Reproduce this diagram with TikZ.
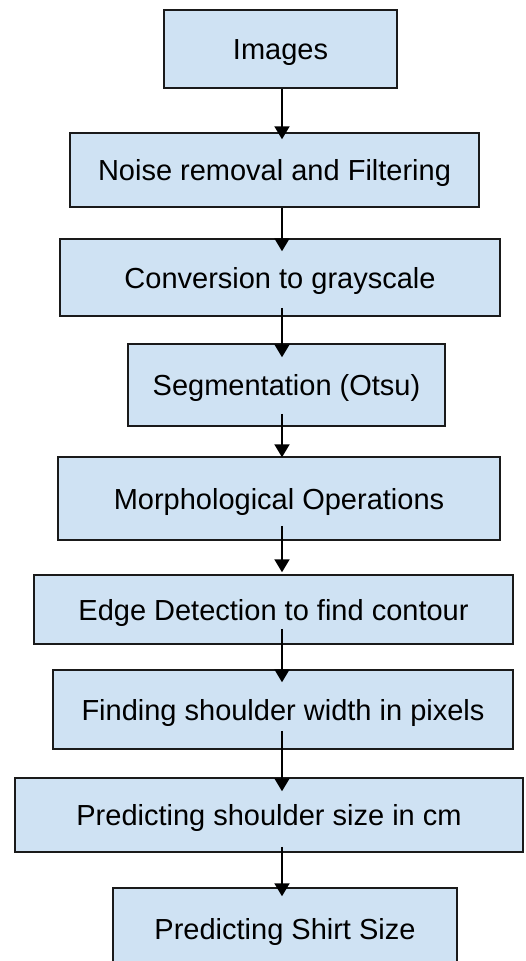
\documentclass[tikz,border=0pt]{standalone}
\usepackage{fontspec}
\setmainfont{Liberation Sans}
\usetikzlibrary{arrows.meta,calc}
\definecolor{boxfill}{HTML}{CFE2F3}
\definecolor{boxline}{HTML}{1A1A1A}
\begin{document}
\begin{tikzpicture}[x=1pt,y=-1pt,
  stepbox/.style={draw=boxline, fill=boxfill, line width=1.5pt, inner sep=0pt,
    font=\fontsize{29}{34}\selectfont, text height=21pt, text depth=0pt},
  arr/.style={line width=2pt, -{Triangle[width=15pt,length=13pt]}}]
\useasboundingbox (0,0) rectangle (526,961);
\coordinate (ax) at (282,0);
\node[stepbox, minimum width=233pt, minimum height=78pt] (n1) at (280.5,49) {Images};
\node[stepbox, minimum width=409pt, minimum height=74pt] (n2) at (274.5,170) {Noise removal and Filtering};
\node[stepbox, minimum width=440pt, minimum height=77pt] (n3) at (280,277.5) {Conversion to grayscale};
\node[stepbox, minimum width=317pt, minimum height=82pt] (n4) at (286.5,385) {Segmentation (Otsu)};
\node[stepbox, minimum width=442pt, minimum height=83pt] (n5) at (279,498.5) {Morphological Operations};
\node[stepbox, minimum width=479pt, minimum height=69pt] (n6) at (273.5,609.5) {Edge Detection to find contour};
\node[stepbox, minimum width=460pt, minimum height=79pt] (n7) at (283,709.5) {Finding shoulder width in pixels};
\node[stepbox, minimum width=508pt, minimum height=74pt] (n8) at (269,815) {Predicting shoulder size in cm};
\node[stepbox, minimum width=344pt, minimum height=81pt] (n9) at (285,928.5) {Predicting Shirt Size};
\draw[arr] ($(n1.south -| ax)+(0,0)$) -- ($(n2.north -| ax)+(0,7)$);
\draw[arr] ($(n2.south -| ax)+(0,0)$) -- ($(n3.north -| ax)+(0,13)$);
\draw[arr] ($(n3.south -| ax)+(0,-9)$) -- ($(n4.north -| ax)+(0,14)$);
\draw[arr] ($(n4.south -| ax)+(0,-13)$) -- ($(n5.north -| ax)+(0,1)$);
\draw[arr] ($(n5.south -| ax)+(0,-15)$) -- ($(n6.north -| ax)+(0,-2)$);
\draw[arr] ($(n6.south -| ax)+(0,-16)$) -- ($(n7.north -| ax)+(0,13)$);
\draw[arr] ($(n7.south -| ax)+(0,-19)$) -- ($(n8.north -| ax)+(0,14)$);
\draw[arr] ($(n8.south -| ax)+(0,-6)$) -- ($(n9.north -| ax)+(0,9)$);
\end{tikzpicture}
\end{document}
